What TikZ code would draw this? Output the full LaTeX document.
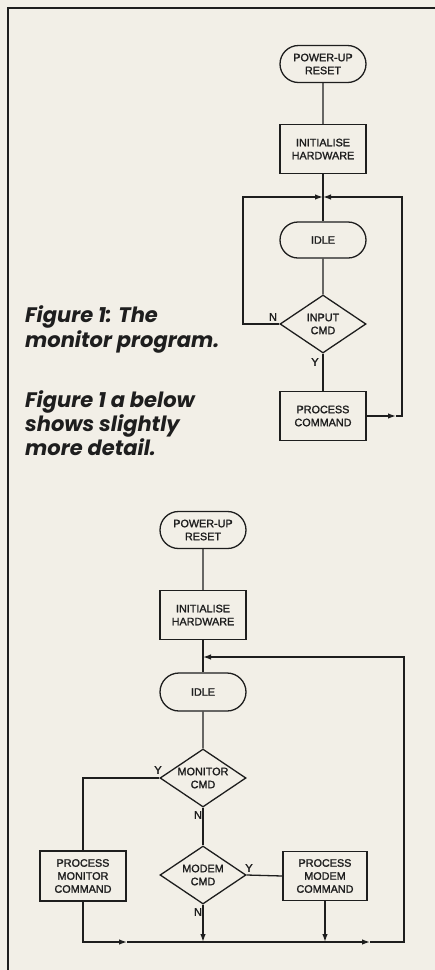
\documentclass[tikz,border=0pt]{standalone}
\usepackage{fontspec}
\setmainfont{Liberation Sans}[FakeBold=1.6]
\newfontfamily\capfont{Poppins}
\usetikzlibrary{shapes.geometric,shapes.misc,arrows.meta}
\definecolor{paper}{HTML}{F2EFE7}
\definecolor{ink}{HTML}{1E1E1E}
\begin{document}
\begin{tikzpicture}[x=1pt,y=-1pt,
  every node/.style={font=\fontsize{10.8}{13}\selectfont, text=ink},
  term/.style={draw=ink, line width=1.3pt, rounded rectangle, inner sep=0pt, minimum width=86pt, minimum height=37pt, align=center},
  proc/.style={draw=ink, line width=1.3pt, rectangle, inner sep=0pt, minimum width=86pt, minimum height=49pt, align=center},
  dec/.style={draw=ink, line width=1.3pt, diamond, shape aspect=1.47, inner sep=0pt, minimum width=86pt, minimum height=58pt, align=center},
  conn/.style={draw=ink, line width=1.3pt},
  arr/.style={conn, -{Latex[length=8pt,width=5.5pt]}},
  lbl/.style={font=\fontsize{11}{12}\selectfont, inner sep=0pt},
  captext/.style={font=\capfont\bfseries\itshape\fontsize{21}{24}\selectfont, anchor=base west, inner sep=0pt}
]
\fill[paper] (0,0) rectangle (435,970);
\useasboundingbox (0,0) rectangle (435,970);
\draw[ink, line width=2pt] (8,970) -- (8,8) -- (436,8);

% ---- top flowchart
\node[term] (pr1) at (323,64) {POWER-UP\\RESET};
\node[proc] (in1) at (323,149) {INITIALISE\\HARDWARE};
\coordinate (j1) at (323,197);
\node[term, minimum height=36pt] (idle1) at (323,240) {IDLE};
\node[dec] (ic) at (323,324) {INPUT\\CMD};
\node[proc] (pc) at (323,416) {PROCESS\\COMMAND};
\coordinate (l1) at (243,324);
\coordinate (r1) at (402,416);
\coordinate (ra1) at (396,416);

\draw[conn] (pr1) -- (in1);
\draw[conn] (in1) -- (idle1);
\draw[conn] (idle1) -- (ic);
\draw[conn] (ic) -- (pc);
\draw[arr] (ic.west) -- (l1) |- (j1);
\draw[arr] (pc.east) -- (ra1);
\draw[arr] (ra1) -- (r1) |- (j1);
\node[lbl] (n1) at (273,317) {N};
\node[lbl] (y1) at (315,362) {Y};

% ---- caption
\node[captext] (c1) at (25,322) {Figure 1: The};
\node[captext] (c2) at (25,347) {monitor program.};
\node[captext] (c3) at (25,407) {Figure 1 a below};
\node[captext] (c4) at (25,431) {shows slightly};
\node[captext] (c5) at (25,455) {more detail.};

% ---- bottom flowchart
\node[term] (pr2) at (203,530) {POWER-UP\\RESET};
\node[proc] (in2) at (203,615) {INITIALISE\\HARDWARE};
\coordinate (j2) at (203,657);
\node[term, minimum height=38pt] (idle2) at (203,692) {IDLE};
\node[dec] (mc) at (203,778) {MONITOR\\CMD};
\node[dec] (md) at (203,875) {MODEM\\CMD};
\node[proc, minimum height=50pt] (pmc) at (83,876) {PROCESS\\MONITOR\\COMMAND};
\node[proc, minimum width=84pt] (pmd) at (325,876) {PROCESS\\MODEM\\COMMAND};
\coordinate (b0) at (83,942);
\coordinate (ba1) at (127,942);
\coordinate (bm) at (203,942);
\coordinate (bp) at (325,942);
\coordinate (ba2) at (370,942);
\coordinate (br) at (404,942);

\draw[conn] (pr2) -- (in2);
\draw[conn] (in2) -- (idle2);
\draw[conn] (idle2) -- (mc);
\draw[conn] (mc) -- (md);
\draw[conn] (mc.west) -| (pmc.north);
\draw[conn] (md.east) -- (pmd.west);
\draw[arr] (md.south) -- (bm);
\draw[arr] (pmd.south) -- (bp);
\draw[arr] (pmc.south) |- (ba1);
\draw[arr] (ba1) -- (ba2);
\draw[arr] (ba2) -- (br) |- (j2);
\node[lbl] (y2) at (158,770) {Y};
\node[lbl] (n2) at (198,815) {N};
\node[lbl] (y3) at (249,868) {Y};
\node[lbl] (n3) at (198,912) {N};
\end{tikzpicture}
\end{document}
